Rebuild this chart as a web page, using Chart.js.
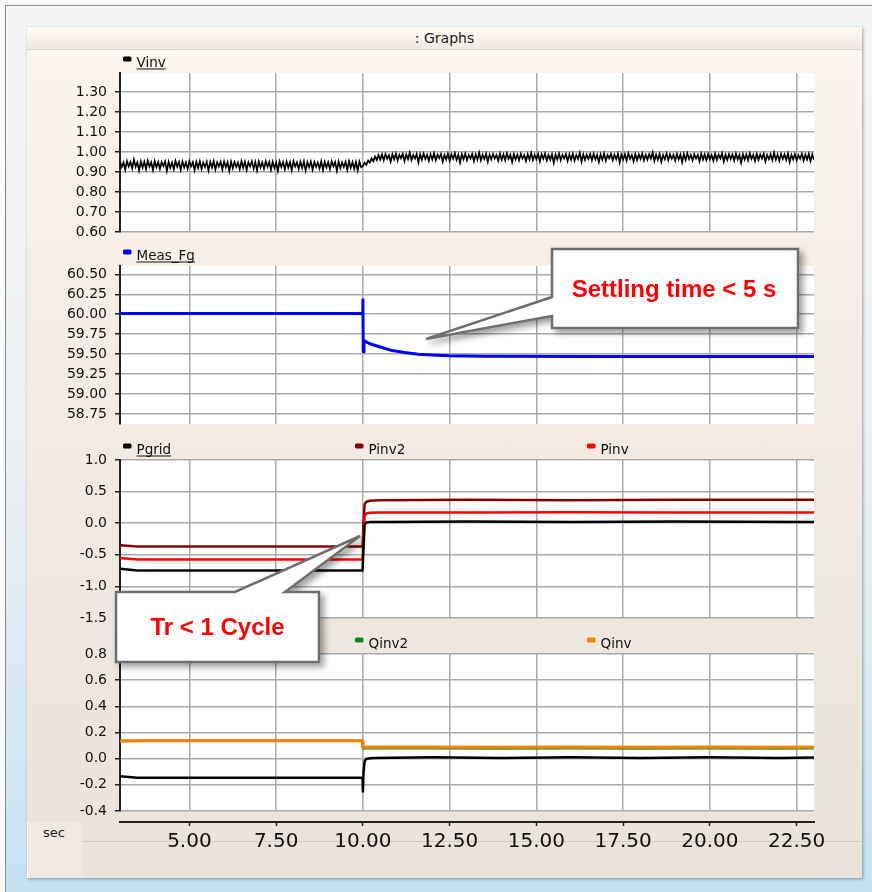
<!DOCTYPE html>
<html>
<head>
<meta charset="utf-8">
<title>Graphs</title>
<script src="https://cdn.jsdelivr.net/npm/chart.js@4.4.1/dist/chart.umd.min.js"></script>
<style>
  html, body { margin: 0; padding: 0; }
  body {
    width: 872px; height: 892px; overflow: hidden; position: relative;
    background: #fbfcfd;
    font-family: "DejaVu Sans", sans-serif;
  }
  #frame {
    position: absolute; left: 5px; top: 5px; width: 867px; height: 887px;
    border-left: 1px solid #8e8e8e; border-top: 1px solid #8e8e8e;
    background: linear-gradient(to bottom, #f3f4f5 0%, #edf0f2 45%, #d9e9f2 80%, #c3e1f1 100%);
  }
  #panel {
    position: absolute; left: 27px; top: 27px; width: 835px; height: 851px;
    background: linear-gradient(to bottom, #fcf6ee 0%, #f5ede3 35%, #ebe3d9 100%);
    box-shadow: 1px 1px 3px rgba(0,0,0,0.35);
  }
  #header {
    position: absolute; left: 0; top: 0; width: 835px; height: 22px;
    background: linear-gradient(to bottom, #fefaf5, #f2e9de);
    border-bottom: 1px solid #ddd3c7;
    text-align: center; font-size: 14px; line-height: 23px; color: #222;
  }
  #secBox {
    position: absolute; left: 0; top: 795px; width: 55px; height: 56px;
    background: #efe9e2; border-left: 1px solid #fff;
  }
  #secLabel {
    position: absolute; left: 16px; top: 798px; font-size: 13px; color: #222;
  }
  #axisRule {
    position: absolute; left: 55px; top: 814px; width: 780px; height: 1px; background: #d3cbc2;
  }
  canvas { position: absolute; left: 27px; }
  #notes { position: absolute; left: 0; top: 0; pointer-events: none; }
</style>
</head>
<body>
<div id="frame"></div>
<div id="panel">
  <div id="header">: Graphs</div>
  <div id="secBox"></div>
  <div id="secLabel">sec</div>
  <div id="axisRule"></div>
</div>

<canvas id="vinvChart" width="835" height="194" style="top:50px"></canvas>
<canvas id="fgChart" width="835" height="196" style="top:240px"></canvas>
<canvas id="pChart" width="835" height="196" style="top:434px"></canvas>
<canvas id="qChart" width="835" height="196" style="top:627px"></canvas>
<canvas id="timeAxis" width="835" height="60" style="top:800px"></canvas>

<svg id="notes" width="872" height="892">
  <defs>
    <filter id="calloutShadow" x="-20%" y="-30%" width="150%" height="180%">
      <feDropShadow dx="4" dy="4" stdDeviation="3" flood-color="#000" flood-opacity="0.38"/>
    </filter>
  </defs>
  <path d="M552,249 H798 V328 H552 V316 L426,339 L552,297 Z"
        fill="#fff" stroke="#6e6e6e" stroke-width="2.5" filter="url(#calloutShadow)"/>
  <text x="674" y="297" text-anchor="middle" font-family="Liberation Sans, Arial, sans-serif"
        font-weight="bold" font-size="24" fill="#ff0000">Settling time &lt; 5 s</text>
  <path d="M116,592 H235 L360,536 L285,592 H319 V662 H116 Z"
        fill="#fff" stroke="#6e6e6e" stroke-width="2.5" filter="url(#calloutShadow)"/>
  <text x="217.5" y="635" text-anchor="middle" font-family="Liberation Sans, Arial, sans-serif"
        font-weight="bold" font-size="24" fill="#ff0000">Tr &lt; 1 Cycle</text>
</svg>

<script>
// ---- tick labels ----
const timeTicks = [5, 7.5, 10, 12.5, 15, 17.5, 20, 22.5];
const vinvTicks = [0.6, 0.7, 0.8, 0.9, 1.0, 1.1, 1.2, 1.3];
const fgTicks = [58.75, 59.0, 59.25, 59.5, 59.75, 60.0, 60.25, 60.5];
const pTicks = [-1.5, -1.0, -0.5, 0.0, 0.5, 1.0];
const qTicks = [-0.4, -0.2, 0.0, 0.2, 0.4, 0.6, 0.8];

// ---- Vinv (p.u.), sampled every 0.05 s from 3.00 s ----
const vinvStart = 3.0;
const vinvStep = 0.05;
const vinvBefore = [
  0.952,0.925,0.948,0.912,0.955,0.928,0.950,0.918,0.962,0.926,
  0.949,0.908,0.953,0.922,0.951,0.915,0.957,0.927,0.948,0.910,
  0.954,0.924,0.950,0.916,0.949,0.929,0.953,0.906,0.951,0.921,
  0.947,0.914,0.955,0.926,0.950,0.911,0.952,0.923,0.948,0.917,
  0.954,0.928,0.949,0.909,0.951,0.920,0.953,0.915,0.947,0.925,
  0.952,0.907,0.950,0.922,0.954,0.913,0.948,0.927,0.951,0.912,
  0.953,0.924,0.949,0.905,0.952,0.919,0.950,0.926,0.947,0.914,
  0.954,0.921,0.951,0.910,0.949,0.928,0.953,0.916,0.950,0.908,
  0.952,0.923,0.948,0.917,0.954,0.926,0.950,0.911,0.951,0.920,
  0.947,0.906,0.953,0.925,0.949,0.914,0.952,0.922,0.950,0.909,
  0.954,0.927,0.948,0.915,0.951,0.920,0.953,0.907,0.949,0.924,
  0.952,0.912,0.950,0.926,0.947,0.918,0.954,0.910,0.951,0.923,
  0.949,0.914,0.953,0.928,0.950,0.906,0.952,0.919,0.948,0.925,
  0.951,0.911,0.954,0.921,0.949,0.916,0.950,0.908,0.952,0.924
];
const vinvAfter = [
  0.930,0.946,0.936,0.957,0.947,0.968,0.954,0.978,0.960,0.985,
  0.962,0.988,0.958,0.990,0.966,0.984,0.951,0.989,0.963,0.992,
  0.957,0.986,0.968,0.991,0.955,0.987,0.964,0.996,0.959,0.985,
  0.967,0.990,0.948,0.988,0.961,0.992,0.965,0.986,0.956,0.989,
  0.963,0.993,0.958,0.987,0.969,0.990,0.952,0.985,0.962,0.991,
  0.957,0.988,0.966,0.994,0.960,0.986,0.947,0.989,0.964,0.992,
  0.959,0.985,0.967,0.990,0.954,0.988,0.962,0.997,0.958,0.986,
  0.965,0.991,0.951,0.987,0.963,0.990,0.968,0.985,0.956,0.992,
  0.961,0.988,0.959,0.993,0.966,0.986,0.949,0.990,0.963,0.987,
  0.958,0.991,0.967,0.985,0.955,0.989,0.962,0.994,0.960,0.986,
  0.964,0.990,0.953,0.988,0.966,0.992,0.958,0.985,0.961,0.989,
  0.946,0.987,0.963,0.993,0.959,0.986,0.967,0.990,0.955,0.988,
  0.962,0.991,0.957,0.985,0.965,0.996,0.952,0.989,0.960,0.987,
  0.966,0.990,0.958,0.992,0.963,0.986,0.950,0.988,0.961,0.993,
  0.956,0.985,0.968,0.990,0.959,0.987,0.964,0.991,0.948,0.986,
  0.962,0.989,0.957,0.994,0.966,0.985,0.953,0.990,0.960,0.988,
  0.965,0.992,0.958,0.986,0.962,0.989,0.967,0.997,0.955,0.987,
  0.961,0.990,0.951,0.985,0.964,0.992,0.959,0.988,0.966,0.986,
  0.957,0.991,0.963,0.987,0.949,0.990,0.960,0.993,0.965,0.985,
  0.958,0.989,0.967,0.986,0.954,0.992,0.962,0.988,0.959,0.990,
  0.964,0.985,0.956,0.991,0.961,0.987,0.968,0.994,0.952,0.986,
  0.960,0.990,0.965,0.988,0.957,0.992,0.963,0.985,0.946,0.989,
  0.962,0.987,0.958,0.993,0.966,0.986,0.955,0.990,0.961,0.988,
  0.967,0.991,0.953,0.985,0.964,0.989,0.959,0.996,0.962,0.987,
  0.956,0.990,0.965,0.988,0.960,0.992,0.950,0.986,0.963,0.989,
  0.958,0.985,0.966,0.991,0.957,0.987,0.962,0.990,0.955,0.988,
  0.961
];

// ---- Measured grid frequency (Hz) ----
const fgTime = [3.0, 9.98, 10.0, 10.01, 10.03, 10.2, 10.5, 10.8, 11.2, 11.6, 12.0, 12.5, 13.5, 17.0, 23.0];
const measFg = [60.01, 60.01, 60.18, 59.53, 59.67, 59.63, 59.59, 59.55, 59.52, 59.50, 59.49, 59.48, 59.475, 59.47, 59.47];

// ---- Active power (p.u.) ----
const pTime = [3.0, 3.5, 6.0, 9.99, 10.02, 10.05, 10.1, 10.2, 10.5, 13.0, 16.0, 19.0, 23.0];
const pgrid = [-0.72, -0.75, -0.75, -0.75, -0.35, -0.02, 0.01, 0.02, 0.02, 0.025, 0.02, 0.025, 0.02];
const pinv2 = [-0.35, -0.37, -0.37, -0.37, 0.05, 0.30, 0.34, 0.355, 0.365, 0.37, 0.365, 0.37, 0.37];
const pinv  = [-0.55, -0.575, -0.575, -0.575, -0.15, 0.12, 0.155, 0.165, 0.17, 0.17, 0.175, 0.17, 0.17];

// ---- Reactive power (p.u.) ----
const qTime = [3.0, 3.5, 9.99, 10.0, 10.02, 10.05, 10.1, 10.3, 12.0, 14.0, 16.0, 18.0, 20.0, 22.0, 23.0];
const qgrid = [-0.135, -0.145, -0.145, -0.25, -0.10, -0.02, 0.0, 0.005, 0.01, 0.005, 0.01, 0.005, 0.01, 0.005, 0.008];
const qinv2 = [0.135, 0.137, 0.137, 0.08, 0.078, 0.08, 0.08, 0.08, 0.08, 0.078, 0.08, 0.078, 0.08, 0.078, 0.08];
const qinv  = [0.135, 0.137, 0.137, 0.09, 0.088, 0.09, 0.09, 0.09, 0.09, 0.088, 0.09, 0.088, 0.09, 0.088, 0.09];

// ---- helpers ----
const pairs = (xs, ys) => ys.map((y, i) => ({ x: xs[i], y }));
const vinvSeries = vinvBefore.concat(vinvAfter)
  .map((y, i) => ({ x: Math.round((vinvStart + i * vinvStep) * 1000) / 1000, y }));

const GRID = '#a9a9a9';
const INK = '#111';
const AXIS = '#222';
const TIME_MIN = 3, TIME_MAX = 23;
const Y_AXIS_WIDTH = 93;
const RIGHT_PAD = 48;
const BOTTOM_PAD = 12;

// white plotting area
const plotBg = {
  id: 'plotBg',
  beforeDraw(chart) {
    const { ctx, chartArea: a } = chart;
    ctx.save();
    ctx.fillStyle = '#fff';
    ctx.fillRect(a.left, a.top, a.right - a.left, a.bottom - a.top);
    ctx.restore();
  }
};

// one row of legend entries above each plot; first entry is underlined
const legendRow = {
  id: 'legendRow',
  afterDraw(chart) {
    const { ctx, chartArea: a } = chart;
    ctx.save();
    ctx.font = '13.5px "DejaVu Sans"';
    ctx.textBaseline = 'alphabetic';
    chart.data.datasets.forEach((ds, i) => {
      const x = a.left + 3 + i * 232;
      ctx.fillStyle = ds.legendColor || ds.borderColor;
      ctx.beginPath();
      ctx.roundRect(x, a.top - 16.5, 8.5, 5, 1.5);
      ctx.fill();
      ctx.fillStyle = INK;
      ctx.fillText(ds.label, x + 13.5, a.top - 6);
      if (i === 0) {
        const w = ctx.measureText(ds.label).width;
        ctx.fillRect(x + 13.5, a.top - 4.5, w, 1);
      }
    });
    ctx.restore();
  }
};

// the value axis keeps a fixed width and no extra room for its end labels
function fixYAxis(s) {
  s.width = Y_AXIS_WIDTH;
  s.paddingTop = 0;
  s.paddingBottom = 0;
}

function line(label, data, color, width, order, extra) {
  return Object.assign({
    label, data, borderColor: color, borderWidth: width, order,
    pointRadius: 0, fill: false, tension: 0, borderJoinStyle: 'round'
  }, extra || {});
}

function panel(id, datasets, yMin, yMax, yTickValues, decimals, padTop) {
  return new Chart(document.getElementById(id), {
    type: 'line',
    data: { datasets },
    options: {
      responsive: false,
      animation: false,
      events: [],
      layout: { padding: { top: padTop, right: RIGHT_PAD, bottom: BOTTOM_PAD, left: 0 } },
      plugins: { legend: { display: false }, tooltip: { enabled: false } },
      scales: {
        x: {
          type: 'linear', min: TIME_MIN, max: TIME_MAX,
          afterBuildTicks: s => { s.ticks = timeTicks.map(v => ({ value: v })); },
          ticks: { display: false },
          grid: { color: GRID, lineWidth: 1.5, drawTicks: false },
          border: { display: false },
          afterFit: s => { s.height = 0; s.paddingLeft = 0; s.paddingRight = 0; }
        },
        y: {
          min: yMin, max: yMax,
          afterBuildTicks: s => { s.ticks = yTickValues.map(v => ({ value: v })); },
          ticks: {
            callback: v => Number(v).toFixed(decimals),
            font: { family: 'DejaVu Sans', size: 14 }, color: INK, padding: 8
          },
          grid: { color: GRID, lineWidth: 1.5, tickColor: AXIS, tickLength: 5, tickWidth: 1.5 },
          border: { color: AXIS, width: 2 },
          afterFit: fixYAxis
        }
      }
    },
    plugins: [plotBg, legendRow]
  });
}

panel('vinvChart',
  [line('Vinv', vinvSeries, '#000', 1.7, 0, { borderJoinStyle: 'miter' })],
  0.6, 1.395, vinvTicks, 2, 23);

panel('fgChart',
  [line('Meas_Fg', pairs(fgTime, measFg), '#0000ff', 3, 0)],
  58.625, 60.604, fgTicks, 2, 26);

panel('pChart', [
  line('Pgrid', pairs(pTime, pgrid), '#000', 2.5, 0),
  line('Pinv2', pairs(pTime, pinv2), '#800000', 2.5, 2),
  line('Pinv', pairs(pTime, pinv), '#ff0000', 2.5, 1)
], -1.5, 1.0, pTicks, 1, 26);

panel('qChart', [
  line('Qgrid', pairs(qTime, qgrid), '#000', 2.5, 0),
  line('Qinv2', pairs(qTime, qinv2), '#1f9a1f', 2.5, 2, { legendColor: '#0a8a0a' }),
  line('Qinv', pairs(qTime, qinv), '#ff8000', 3, 1)
], -0.4, 0.8, qTicks, 1, 27);

// shared time axis under the stacked plots
new Chart(document.getElementById('timeAxis'), {
  type: 'line',
  data: { datasets: [] },
  options: {
    responsive: false,
    animation: false,
    events: [],
    layout: { padding: { top: 0, right: RIGHT_PAD, bottom: 0, left: 0 } },
    plugins: { legend: { display: false }, tooltip: { enabled: false } },
    scales: {
      x: {
        type: 'linear', min: TIME_MIN, max: TIME_MAX,
        afterBuildTicks: s => { s.ticks = timeTicks.map(v => ({ value: v })); },
        ticks: {
          callback: v => Number(v).toFixed(2),
          font: { family: 'DejaVu Sans', size: 20 }, color: INK,
          padding: 4, maxRotation: 0, autoSkip: false
        },
        grid: { drawOnChartArea: false, tickLength: 4, tickColor: AXIS, tickWidth: 1.5 },
        border: { color: AXIS, width: 2 },
        afterFit: s => { s.height = 38; s.paddingLeft = 0; s.paddingRight = 0; }
      },
      y: {
        ticks: { display: false },
        grid: { display: false },
        border: { display: false },
        afterFit: fixYAxis
      }
    }
  }
});
</script>
</body>
</html>
